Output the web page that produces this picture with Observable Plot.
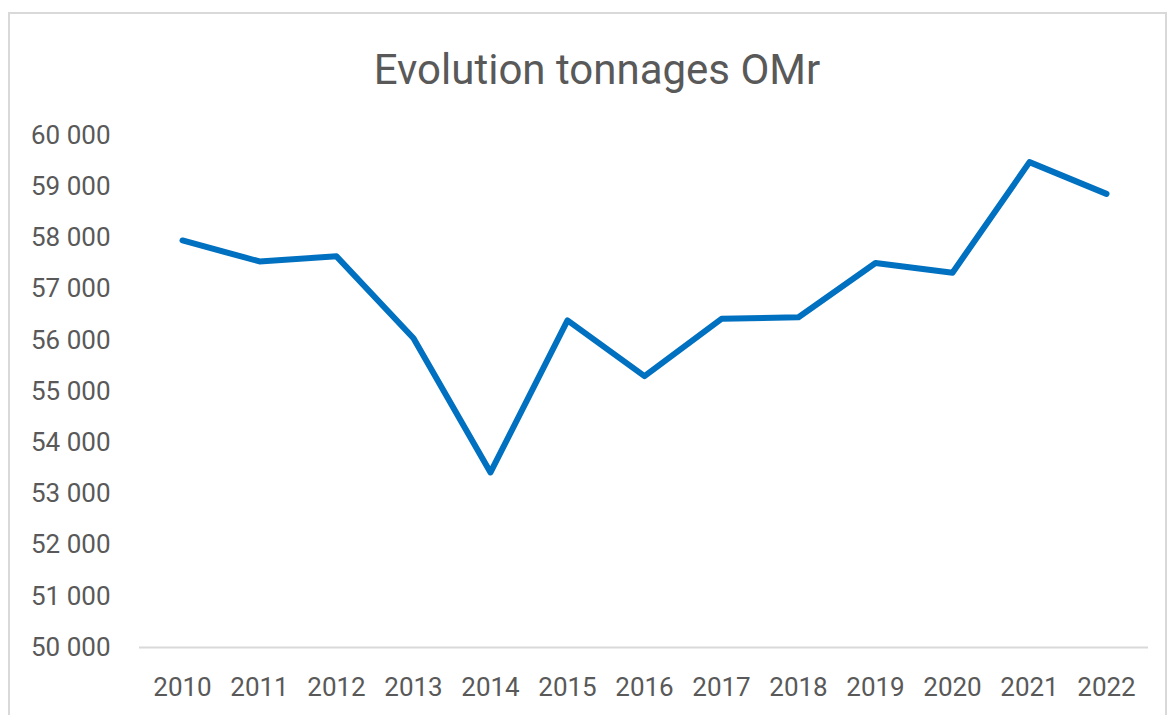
<!DOCTYPE html>
<html>
<head>
<meta charset="utf-8">
<script src="https://cdn.jsdelivr.net/npm/d3@7"></script>
<script src="https://cdn.jsdelivr.net/npm/@observablehq/plot@0.6"></script>
<style>
  html, body { margin: 0; padding: 0; background: #fff; overflow: hidden; }
  #wrap { position: relative; width: 1173px; height: 715px; }
  #frame { position: absolute; left: 8px; top: 12px; width: 1159px; height: 720px; border: 2px solid #d9d9d9; box-sizing: border-box; }
  #title { position: absolute; left: 0; width: 1194px; top: 44px; text-align: center; font-family: Roboto, sans-serif; font-size: 42px; color: #595959; line-height: 52px; }
  #chart { position: absolute; left: 0; top: 115px; }
</style>
</head>
<body>
<div id="wrap">
  <div id="frame"></div>
  <div id="title">Evolution tonnages OMr</div>
  <div id="chart"></div>
</div>
<script>
const years = ["2010","2011","2012","2013","2014","2015","2016","2017","2018","2019","2020","2021","2022"];
const tonnages = [57950, 57540, 57640, 56040, 53420, 56390, 55300, 56420, 56450, 57510, 57320, 59480, 58860];
const yTicks = [50000, 51000, 52000, 53000, 54000, 55000, 56000, 57000, 58000, 59000, 60000];

const data = years.map((y, i) => ({year: y, value: tonnages[i]}));
const fmt = v => d3.format(",")(v).replace(/,/g, " ");

const chart = Plot.plot({
  width: 1173,
  height: 600,
  marginLeft: 139,
  marginRight: 25,
  marginTop: 20,
  marginBottom: 68,
  style: {fontFamily: "Roboto, sans-serif", fontSize: "26px", color: "#595959", background: "transparent"},
  x: {type: "point", domain: years, padding: 0.5, align: 0.5, label: null},
  y: {domain: [50000, 60000], label: null},
  marks: [
    Plot.ruleY([50000], {stroke: "#d9d9d9", strokeWidth: 2}),
    Plot.axisY({ticks: yTicks, tickSize: 0, tickPadding: 29, tickFormat: fmt, label: null}),
    Plot.axisX({tickSize: 0, tickPadding: 30, label: null}),
    Plot.line(data, {x: "year", y: "value", stroke: "#0070C0", strokeWidth: 6, strokeLinejoin: "round", strokeLinecap: "round"})
  ]
});
document.getElementById("chart").appendChild(chart);
</script>
</body>
</html>
